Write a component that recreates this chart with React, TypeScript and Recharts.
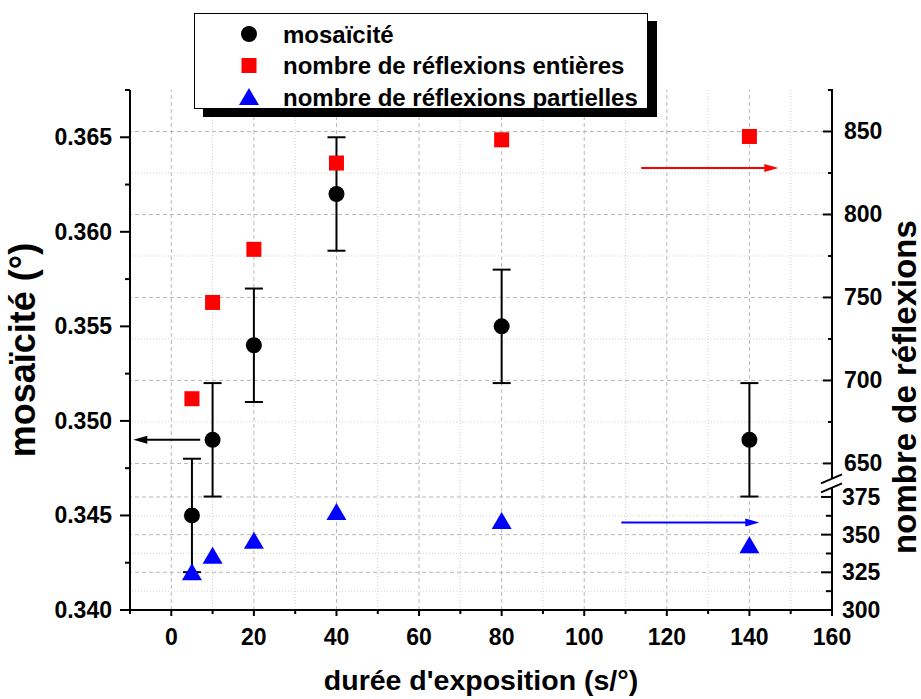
import { ScatterChart, Scatter, XAxis, YAxis, ErrorBar, ReferenceLine, Legend } from 'recharts';

const FONT = '"Liberation Sans", Arial, sans-serif';

// exposure time (s/°)
const exposure = [5, 10, 20, 40, 80, 140];
// mosaicity (°) with symmetric error
const mosaicity = [0.345, 0.349, 0.354, 0.362, 0.355, 0.349];
const mosaicityErr = [0.003, 0.003, 0.003, 0.003, 0.003, 0.003];
// number of full / partial reflections (right, broken axis)
const fullRefl = [689, 747, 779, 831, 845, 847];
const partialRefl = [325, 336, 346, 365, 359, 343];

const xTicks = [-10, 0, 10, 20, 30, 40, 50, 60, 70, 80, 90, 100, 110, 120, 130, 140, 150, 160];
const xMajor = [0, 20, 40, 60, 80, 100, 120, 140, 160];
const leftTicks = [0.34, 0.3425, 0.345, 0.3475, 0.35, 0.3525, 0.355, 0.3575, 0.36, 0.3625, 0.365, 0.3675];
const leftMajor = [0.34, 0.345, 0.35, 0.355, 0.36, 0.365];
const upperTicks = [650, 675, 700, 725, 750, 775, 800, 825, 850, 875];
const upperMajor = [650, 700, 750, 800, 850];
const lowerTicks = [300, 312.5, 325, 337.5, 350, 362.5, 375];
const lowerMajor = [300, 325, 350, 375];

// arrows pointing each series to its axis: [x from, x to, y]
const arrowLeft = [7, -9.2, 0.349];
const arrowFull = [113.8, 147, 828];
const arrowPartial = [109, 142.4, 358];

const mosaicData = exposure.map((x, i) => ({ x, y: mosaicity[i], err: mosaicityErr[i] }));
const fullData = exposure.map((x, i) => ({ x, y: fullRefl[i] }));
const partialData = exposure.map((x, i) => ({ x, y: partialRefl[i] }));

const series = [
  { name: 'mosaïcité', color: '#000000', kind: 'circle' },
  { name: 'nombre de réflexions entières', color: '#ff0000', kind: 'square' },
  { name: 'nombre de réflexions partielles', color: '#0000ff', kind: 'triangle' },
];

const Marker = ({ cx, cy, kind, color }: any) => {
  if (kind === 'circle') return <circle cx={cx} cy={cy} r={8} fill={color} />;
  if (kind === 'square') return <rect x={cx - 7.5} y={cy - 7.5} width={15} height={15} fill={color} />;
  return <polygon points={`${cx},${cy - 9} ${cx - 10},${cy + 8} ${cx + 10},${cy + 8}`} fill={color} />;
};

const txt = { fontFamily: FONT, fontWeight: 'bold' as const, fill: '#000' };

const XTick = ({ x, y, payload }: any) => {
  const major = xMajor.includes(payload.value);
  return (
    <g>
      <line x1={x} x2={x} y1={y} y2={y + (major ? 6 : 4)} stroke="#000" strokeWidth={2} />
      {major && (
        <text x={x} y={y + 35} textAnchor="middle" fontSize={23} {...txt}>{payload.value}</text>
      )}
    </g>
  );
};

const LeftTick = ({ x, y, payload }: any) => {
  const major = leftMajor.includes(payload.value);
  return (
    <g>
      <line x1={x - (major ? 10 : 5)} x2={x} y1={y} y2={y} stroke="#000" strokeWidth={2} />
      {major && (
        <text x={x - 18} y={y + 8} textAnchor="end" fontSize={23} {...txt}>{payload.value.toFixed(3)}</text>
      )}
    </g>
  );
};

// right ticks point into the plot; shift compensates the stacked axis offset
const rightTick = (majors: number[], shift: number) => ({ x, y, payload }: any) => {
  const major = majors.includes(payload.value);
  const ax = x + shift;
  return (
    <g>
      <line x1={ax - (major ? 10 : 5)} x2={ax} y1={y} y2={y} stroke="#000" strokeWidth={2} />
      {major && (
        <text x={ax + 11} y={y + 8} textAnchor="start" fontSize={23} {...txt}>{payload.value}</text>
      )}
    </g>
  );
};
const UpperTick = rightTick(upperMajor, 0);
const LowerTick = rightTick(lowerMajor, -1);

const Arrow = ({ x1, y1, x2, y2, stroke }: any) => {
  const dir = x2 > x1 ? 1 : -1;
  return (
    <g>
      <line x1={x1} y1={y1} x2={x2 - dir * 10} y2={y2} stroke={stroke} strokeWidth={2} />
      <polygon points={`${x2},${y2} ${x2 - dir * 14},${y2 - 4} ${x2 - dir * 14},${y2 + 4}`} fill={stroke} />
    </g>
  );
};

// right axis segment with the break slash on one end
const AxisSegment = ({ x1, y1, x2, y2, slash }: any) => {
  const yb = slash === 'bottom' ? Math.max(y1, y2) : Math.min(y1, y2);
  return (
    <g>
      <line x1={x1} y1={y1} x2={x2} y2={y2} stroke="#000" strokeWidth={2} />
      <line x1={x1 - 11} y1={yb + 5} x2={x1 + 10} y2={yb - 4} stroke="#000" strokeWidth={2} />
    </g>
  );
};

const LegendBox = () => (
  <div style={{ width: 454, height: 96, background: '#fff', border: '1px solid #000', boxShadow: '9px 8px 0 #000', boxSizing: 'border-box' }}>
    <svg width={454} height={96} style={{ display: 'block' }}>
      {series.map((s, i) => (
        <g key={s.name}>
          <Marker cx={54} cy={20 + i * 31.5} kind={s.kind} color={s.color} />
          <text x={88} y={20 + i * 31.5 + 8.5} fontSize={24} {...txt}>{s.name}</text>
        </g>
      ))}
    </svg>
  </div>
);

const majorGrid = { stroke: '#b8b8b8', strokeDasharray: '4 3', strokeWidth: 1 };
const minorGrid = { stroke: '#d2d2d2', strokeDasharray: '1 2', strokeWidth: 1 };

const VTitle = ({ cx, cy, size, children }: any) => (
  <text x={cx} y={cy} transform={`rotate(-90 ${cx} ${cy})`} textAnchor="middle" dominantBaseline="central" fontSize={size} {...txt}>
    {children}
  </text>
);

export default function App() {
  return (
    <div style={{ position: 'absolute', left: 0, top: 0, width: 921, height: 699, background: '#fff' }}>
      <ScatterChart width={921} height={699} margin={{ top: 90, right: 87, bottom: 0, left: 0 }}>
        <XAxis
          type="number"
          dataKey="x"
          domain={[-10, 160]}
          allowDataOverflow
          ticks={xTicks}
          interval={0}
          tickSize={0}
          tickMargin={0}
          tickLine={false}
          tick={(p: any) => <XTick {...p} />}
          height={89}
          axisLine={{ stroke: '#000', strokeWidth: 2 }}
          label={({ viewBox }: any) => (
            <text x={viewBox.x + viewBox.width / 2} y={viewBox.y + 80} textAnchor="middle" fontSize={28.5} {...txt}>
              durée d'exposition (s/°)
            </text>
          )}
        />
        <YAxis
          yAxisId="left"
          type="number"
          dataKey="y"
          domain={[0.34, 0.3675]}
          allowDataOverflow
          ticks={leftTicks}
          interval={0}
          tickSize={0}
          tickMargin={0}
          tickLine={false}
          tick={(p: any) => <LeftTick {...p} />}
          width={130}
          axisLine={{ stroke: '#000', strokeWidth: 2 }}
          label={({ viewBox }: any) => (
            <VTitle cx={viewBox.x + 22} cy={viewBox.y + viewBox.height / 2} size={36}>mosaïcité (°)</VTitle>
          )}
        />
        <YAxis
          yAxisId="upper"
          orientation="right"
          type="number"
          dataKey="y"
          domain={[561.7, 875]}
          allowDataOverflow
          ticks={upperTicks}
          interval={0}
          tickSize={0}
          tickMargin={0}
          tickLine={false}
          axisLine={false}
          tick={(p: any) => <UpperTick {...p} />}
          width={1}
          label={({ viewBox }: any) => (
            <VTitle cx={viewBox.x + 71} cy={viewBox.y + viewBox.height / 2 + 37} size={33}>nombre de réflexions</VTitle>
          )}
        />
        <YAxis
          yAxisId="lower"
          orientation="right"
          type="number"
          dataKey="y"
          domain={[300, 645]}
          allowDataOverflow
          ticks={lowerTicks}
          interval={0}
          tickSize={0}
          tickMargin={0}
          tickLine={false}
          axisLine={false}
          tick={(p: any) => <LowerTick {...p} />}
          width={1}
        />

        {xTicks.filter((v) => v > -10 && v < 160).map((v) => (
          <ReferenceLine key={`vx${v}`} x={v} yAxisId="left" {...(xMajor.includes(v) ? majorGrid : minorGrid)} />
        ))}
        {upperTicks.filter((v) => v < 875).map((v) => (
          <ReferenceLine key={`hu${v}`} y={v} yAxisId="upper" {...(upperMajor.includes(v) ? majorGrid : minorGrid)} />
        ))}
        {lowerTicks.filter((v) => v > 300).map((v) => (
          <ReferenceLine key={`hl${v}`} y={v} yAxisId="lower" {...(lowerMajor.includes(v) ? majorGrid : minorGrid)} />
        ))}

        <ReferenceLine
          yAxisId="upper"
          segment={[{ x: 160, y: 641 }, { x: 160, y: 875 }]}
          shape={(p: any) => <AxisSegment {...p} slash="bottom" />}
        />
        <ReferenceLine
          yAxisId="lower"
          segment={[{ x: 160, y: 300 }, { x: 160, y: 381.4 }]}
          shape={(p: any) => <AxisSegment {...p} slash="top" />}
        />

        <Scatter
          name={series[0].name}
          data={mosaicData}
          yAxisId="left"
          fill={series[0].color}
          shape={(p: any) => <Marker cx={p.cx} cy={p.cy} kind="circle" color={series[0].color} />}
          isAnimationActive={false}
        >
          <ErrorBar dataKey="err" direction="y" width={9} stroke="#000" strokeWidth={2} />
        </Scatter>
        <Scatter
          name={series[1].name}
          data={fullData}
          yAxisId="upper"
          fill={series[1].color}
          shape={(p: any) => <Marker cx={p.cx} cy={p.cy} kind="square" color={series[1].color} />}
          isAnimationActive={false}
        />
        <Scatter
          name={series[2].name}
          data={partialData}
          yAxisId="lower"
          fill={series[2].color}
          shape={(p: any) => <Marker cx={p.cx} cy={p.cy} kind="triangle" color={series[2].color} />}
          isAnimationActive={false}
        />

        <ReferenceLine
          yAxisId="left"
          segment={[{ x: arrowLeft[0], y: arrowLeft[2] }, { x: arrowLeft[1], y: arrowLeft[2] }]}
          shape={(p: any) => <Arrow {...p} stroke="#000" />}
        />
        <ReferenceLine
          yAxisId="upper"
          segment={[{ x: arrowFull[0], y: arrowFull[2] }, { x: arrowFull[1], y: arrowFull[2] }]}
          shape={(p: any) => <Arrow {...p} stroke="#ff0000" />}
        />
        <ReferenceLine
          yAxisId="lower"
          segment={[{ x: arrowPartial[0], y: arrowPartial[2] }, { x: arrowPartial[1], y: arrowPartial[2] }]}
          shape={(p: any) => <Arrow {...p} stroke="#0000ff" />}
        />

        <Legend
          layout="vertical"
          align="center"
          verticalAlign="middle"
          wrapperStyle={{ left: 194, top: 13, width: 454, height: 96 }}
          content={() => <LegendBox />}
        />
      </ScatterChart>
    </div>
  );
}
